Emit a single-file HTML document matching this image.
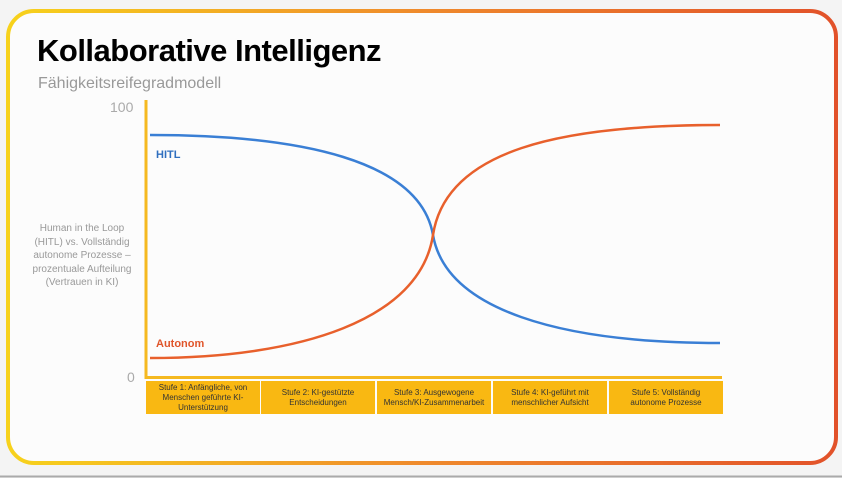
<!DOCTYPE html>
<html><head><meta charset="utf-8"><style>
body{margin:0;width:842px;height:478px;background:#f4f4f4;overflow:hidden;font-family:"Liberation Sans",sans-serif;position:relative}
.t{position:absolute}
.box{position:absolute;top:381px;height:33px;width:114px;background:#f9b812;font-size:8px;line-height:10px;color:#333;display:flex;align-items:center;justify-content:center;text-align:center;padding:0 8px;box-sizing:border-box}
</style></head><body>
<svg width="842" height="478" style="position:absolute;left:0;top:0">
<defs><linearGradient id="g" x1="0" x2="1" y1="0" y2="0"><stop offset="0" stop-color="#f7d21c"/><stop offset="0.5" stop-color="#ef8a2c"/><stop offset="1" stop-color="#e2522a"/></linearGradient></defs>
<rect x="8" y="11" width="828" height="452" rx="26" fill="#fcfcfc" stroke="url(#g)" stroke-width="4"/>
<line x1="0" y1="476.5" x2="842" y2="476.5" stroke="#aaa" stroke-width="2"/>
<line x1="146" y1="100" x2="146" y2="379" stroke="#f5b920" stroke-width="3"/>
<line x1="145" y1="377.5" x2="722" y2="377.5" stroke="#f5b920" stroke-width="3"/>
<path d="M150,135 C300,135 420,160 433,235 C446,310 560,343 720,343" fill="none" stroke="#3a7fd5" stroke-width="2.5"/>
<path d="M150,358 C300,358 420,320 433,235 C446,150 560,125 720,125" fill="none" stroke="#e8602c" stroke-width="2.5"/>
</svg>
<div class="t" style="left:37px;top:33px;font-size:31px;font-weight:bold;color:#000;letter-spacing:-0.5px">Kollaborative Intelligenz</div>
<div class="t" style="left:38px;top:75px;font-size:16px;color:#999">Fähigkeitsreifegradmodell</div>
<div class="t" style="left:110px;top:99px;font-size:14px;color:#aaa">100</div>
<div class="t" style="left:127px;top:369px;font-size:14px;color:#aaa">0</div>
<div class="t" style="left:20px;top:222px;width:124px;font-size:10px;line-height:13.5px;color:#999;text-align:center;white-space:nowrap">Human in the Loop<br>(HITL) vs. Vollständig<br>autonome Prozesse –<br>prozentuale Aufteilung<br>(Vertrauen in KI)</div>
<div class="t" style="left:156px;top:149px;font-size:11px;font-weight:bold;color:#2f6fbf">HITL</div>
<div class="t" style="left:156px;top:338px;font-size:11px;font-weight:bold;color:#e0552a">Autonom</div>
<div class="box" style="left:146px">Stufe 1: Anfängliche, von Menschen geführte KI-Unterstützung</div>
<div class="box" style="left:261px">Stufe 2: KI-gestützte Entscheidungen</div>
<div class="box" style="left:377px;padding:0 2px">Stufe 3: Ausgewogene Mensch/KI-Zusammenarbeit</div>
<div class="box" style="left:493px">Stufe 4: KI-geführt mit menschlicher Aufsicht</div>
<div class="box" style="left:609px;padding:0 18px">Stufe 5: Vollständig autonome Prozesse</div>
</body></html>
